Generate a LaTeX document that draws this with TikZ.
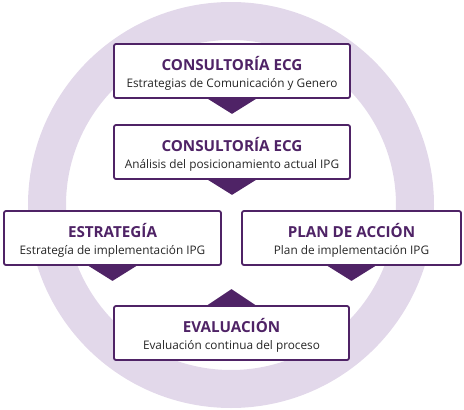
\documentclass[tikz,border=0pt]{standalone}
\usepackage{fontspec}
\setmainfont{Open Sans}
\definecolor{morado}{HTML}{4F2366}
\definecolor{lila}{HTML}{E2D8EA}
\definecolor{gris}{HTML}{262626}
\tikzset{
  caja/.style={draw=morado, line width=1.8pt, rounded corners=2pt, fill=white,
    minimum height=54pt, align=center, inner sep=0pt, text=gris,
    font=\fontsize{11.8}{15}\selectfont},
  flecha/.style={fill=morado},
}
\newcommand{\titulo}[1]{{\fontsize{15.2}{15}\selectfont\bfseries\color{morado}\rule{0pt}{18pt}#1}\\[2pt]}
\begin{document}
\begin{tikzpicture}[x=1pt,y=-1pt]
\useasboundingbox (0,0) rectangle (464,410);

\draw[lila, line width=38pt] (231,205) circle (184pt);

\node[caja, minimum width=236pt] (c1) at (232,71) {\titulo{CONSULTORÍA ECG}Estrategias de Comunicación y Genero};
\node[caja, minimum width=236pt] (c2) at (232,152) {\titulo{CONSULTORÍA ECG}Análisis del posicionamiento actual IPG};
\node[caja, minimum width=217pt] (est) at (112.5,238) {\titulo{ESTRATEGÍA}Estrategía de implementación IPG};
\node[caja, minimum width=219pt] (plan) at (351.5,238) {\titulo{PLAN DE ACCIÓN}Plan de implementación IPG};
\node[caja, minimum width=235pt] (eval) at (231.5,333) {\titulo{EVALUACIÓN}Evaluación continua del proceso};

% triangulos
\foreach \n in {c1,c2,est,plan}
  {\fill[flecha] ([xshift=-24pt]\n.south) -- ([xshift=24pt]\n.south) -- ([yshift=-15pt]\n.south) -- cycle;}
\fill[flecha] ([xshift=-24pt]eval.north) -- ([xshift=24pt]eval.north) -- ([yshift=16pt]eval.north) -- cycle;

\end{tikzpicture}
\end{document}
